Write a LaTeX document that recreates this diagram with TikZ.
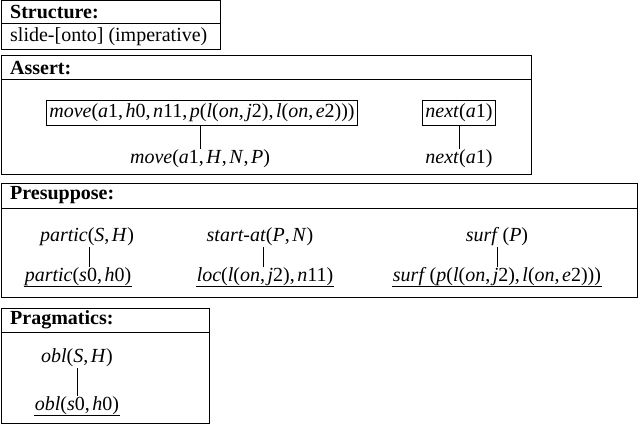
\documentclass[tikz,border=0pt]{standalone}
\usepackage{fontspec}
\setmainfont{Liberation Serif}
\newcommand{\ii}[1]{\textit{#1}}
\newcommand{\cm}{,\kern2.5pt}
\begin{document}
\begin{tikzpicture}[x=1pt,y=-1pt,
  frame/.style={draw,line width=1pt},
  hdr/.style={anchor=west,font=\fontsize{20}{22}\selectfont\bfseries,inner sep=0pt},
  txt/.style={font=\fontsize{20}{22}\selectfont,inner sep=1pt},
  boxed/.style={txt,draw,line width=1pt,inner sep=3pt},
  ul/.style={txt,path picture={\draw[line width=0.8pt]([yshift=0.5pt]path picture bounding box.south west)--([yshift=0.5pt]path picture bounding box.south east);}},
  link/.style={line width=0.8pt}]
\useasboundingbox (0,0) rectangle (640,425);
% Structure
\draw[frame] (1,1) rectangle (220,50); \draw[frame] (1,24)--(220,24);
\node[hdr] (sh) at (10,12) {Structure:};
\node[txt,anchor=west,inner sep=0pt] (st) at (10,37) {slide-[onto] (imperative)};
% Assert
\draw[frame] (1,56) rectangle (531,175); \draw[frame] (1,80)--(531,80);
\node[hdr] (ah) at (10,68) {Assert:};
\node[boxed] (m1) at (202,113) {\ii{move}(\ii{a}1\cm\ii{h}0\cm\ii{n}11\cm\ii{p}(\ii{l}(\ii{on}\cm\ii{j}2)\cm\ii{l}(\ii{on}\cm\ii{e}2)))};
\node[boxed] (n1) at (459,113) {\ii{next}(\ii{a}1)};
\node[txt] (m2) at (200,159) {\ii{move}(\ii{a}1\cm\ii{H}\cm\ii{N}\cm\ii{P})};
\node[txt] (n2) at (459,159) {\ii{next}(\ii{a}1)};
\draw[link] (m1.south -| m2.north) -- (m2.north);
\draw[link] (n1) -- (n2);
% Presuppose
\draw[frame] (1,183) rectangle (637,297); \draw[frame] (1,208)--(637,208);
\node[hdr] (ph) at (10,195) {Presuppose:};
\node[txt] (p1) at (87,237) {\ii{partic}(\ii{S}\cm\ii{H})};
\node[txt] (p2) at (260,237) {\ii{start-at}(\ii{P}\cm\ii{N})};
\node[txt] (p3) at (497,237) {\ii{surf}\,(\ii{P})};
\node[ul] (q1) at (78,277) {\ii{partic}(\ii{s}0\cm\ii{h}0)};
\node[ul] (q2) at (265,277) {\ii{loc}(\ii{l}(\ii{on}\cm\ii{j}2)\cm\ii{n}11)};
\node[ul] (q3) at (497,277) {\ii{surf}\,(\ii{p}(\ii{l}(\ii{on}\cm\ii{j}2)\cm\ii{l}(\ii{on}\cm\ii{e}2)))};
\draw[link] (89,0 |- p1.south) -- (89,0 |- q1.north);
\draw[link] (263,0 |- p2.south) -- (263,0 |- q2.north);
\draw[link] (p3) -- (q3);
% Pragmatics
\draw[frame] (1,308) rectangle (209,423); \draw[frame] (1,332)--(209,332);
\node[hdr] (gh) at (10,320) {Pragmatics:};
\node[txt] (o1) at (77,358) {\ii{obl}(\ii{S}\cm\ii{H})};
\node[ul] (o2) at (77,406) {\ii{obl}(\ii{s}0\cm\ii{h}0)};
\draw[link] (o1) -- (o2);
\end{tikzpicture}
\end{document}
